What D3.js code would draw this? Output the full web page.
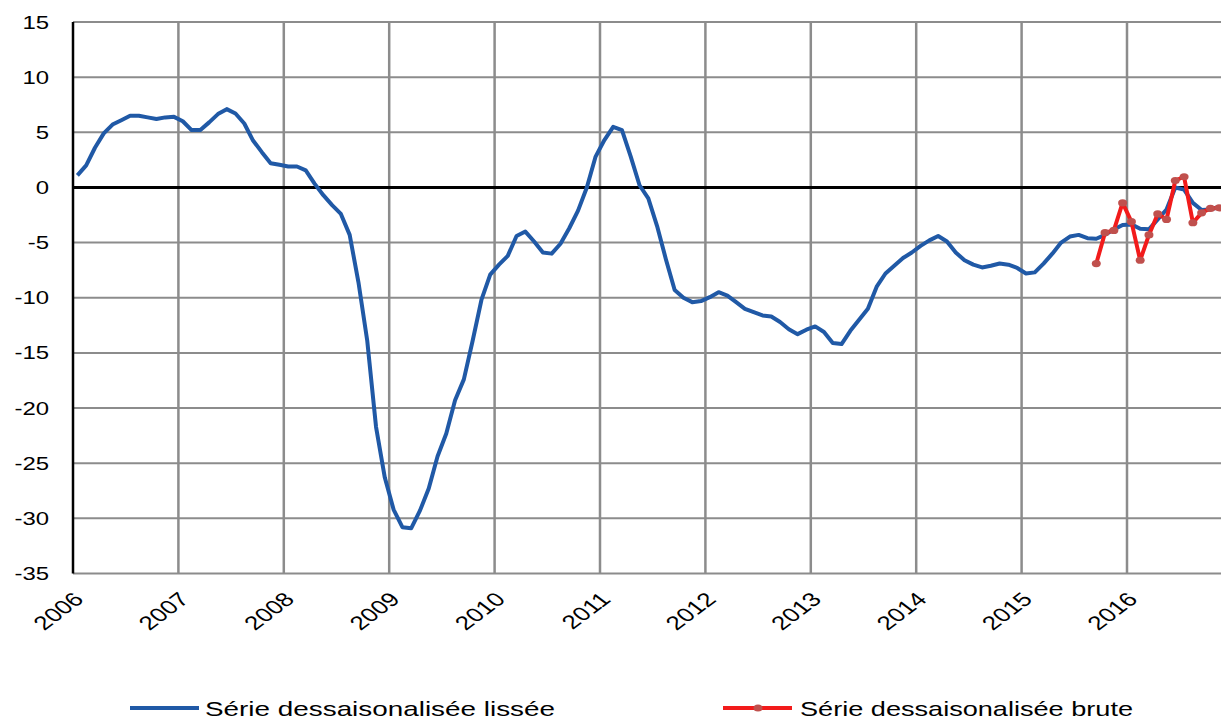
<!DOCTYPE html>
<html><head><meta charset="utf-8">
<script src="https://cdn.jsdelivr.net/npm/d3@7"></script>
<style>
html,body{margin:0;padding:0;background:#fff;}
svg text{font-family:"Liberation Sans",Arial,sans-serif;fill:#000;}
</style></head>
<body><svg id="c" width="1221" height="719"></svg>
<script>
// Monthly series starting January 2006 (one value per month)
const startYear = 2006;
const yearTicks = [2006,2007,2008,2009,2010,2011,2012,2013,2014,2015,2016];
const yTicks = [15,10,5,0,-5,-10,-15,-20,-25,-30,-35];
const seriesNames = ["Série dessaisonalisée lissée","Série dessaisonalisée brute"];
const smoothed = [
 1.1,2.0,3.6,4.9,5.7,6.1,6.5,6.5,6.35,6.2,6.35,6.4,
 6.0,5.2,5.2,5.9,6.65,7.1,6.7,5.8,4.25,3.2,2.2,2.05,
 1.9,1.9,1.55,0.35,-0.7,-1.6,-2.4,-4.3,-8.6,-13.9,-21.7,-26.3,
 -29.2,-30.8,-30.9,-29.3,-27.3,-24.4,-22.3,-19.3,-17.4,-13.9,-10.2,-7.9,
 -7.0,-6.2,-4.4,-4.0,-4.9,-5.9,-6.0,-5.1,-3.7,-2.1,0.0,2.8,
 4.3,5.5,5.2,2.8,0.2,-1.0,-3.5,-6.5,-9.3,-10.0,-10.4,-10.3,
 -9.95,-9.5,-9.8,-10.4,-11.0,-11.3,-11.6,-11.7,-12.2,-12.85,-13.3,-12.9,
 -12.6,-13.1,-14.1,-14.2,-13.0,-12.0,-11.0,-9.0,-7.8,-7.1,-6.4,-5.9,
 -5.3,-4.8,-4.4,-4.9,-5.9,-6.6,-7.0,-7.25,-7.1,-6.9,-7.0,-7.3,
 -7.8,-7.7,-6.9,-6.0,-5.0,-4.45,-4.3,-4.6,-4.65,-4.3,-3.8,-3.4,
 -3.35,-3.75,-3.8,-2.9,-2.0,0.0,-0.2,-1.4,-2.05,-2.0,-1.75
];
const rawStartMonth = 116; // September 2015
const raw = [-6.9,-4.1,-3.9,-1.4,-3.1,-6.6,-4.3,-2.4,-2.9,0.63,0.97,-3.2,-2.3,-1.9,-1.85];

const SX = 1.33; // horizontal stretch of text in the reference
const svg = d3.select("#c");
const L = 73, T = 22, B = 573.5, R = 1221;
const x = d3.scaleLinear().domain([2006, 2016]).range([L, 1127]);
const y = d3.scaleLinear().domain([-35, 15]).range([B, T]);
const monthX = m => x(startYear + (m + 0.5) / 12);

// gridlines
const g = svg.append("g");
g.selectAll("line.h").data(yTicks).join("line")
  .attr("x1", L).attr("x2", R + 5).attr("y1", d => y(d)).attr("y2", d => y(d))
  .attr("stroke", "#8c8c8c").attr("stroke-width", 2);
g.selectAll("line.v").data(yearTicks.slice(1)).join("line")
  .attr("x1", d => x(d)).attr("x2", d => x(d)).attr("y1", T).attr("y2", B)
  .attr("stroke", "#8c8c8c").attr("stroke-width", 2.5);
// zero line
g.append("line").attr("x1", L).attr("x2", R + 5).attr("y1", y(0)).attr("y2", y(0))
  .attr("stroke", "#000").attr("stroke-width", 3);
// left axis
g.append("line").attr("x1", L).attr("x2", L).attr("y1", T).attr("y2", B)
  .attr("stroke", "#000").attr("stroke-width", 2.5);

// y labels
svg.selectAll("text.yl").data(yTicks).join("text")
  .attr("text-anchor", "end").attr("font-size", 18)
  .attr("transform", d => `translate(49,${y(d) + 6.5}) scale(${SX},1)`)
  .text(d => d);
// x labels
svg.selectAll("text.xl").data(yearTicks).join("text")
  .attr("text-anchor", "end").attr("font-size", 19.5)
  .attr("transform", d => `translate(${x(d) + 12},${B + 27}) scale(${SX},1) rotate(-45)`)
  .text(d => d);

// lines
const line = d3.line().x(d => monthX(d.m)).y(d => y(d.v));
const sm = smoothed.map((v, m) => ({m, v}));
const rw = raw.map((v, i) => ({m: rawStartMonth + i, v}));
svg.append("path").datum(sm).attr("d", line).attr("fill", "none")
  .attr("stroke", "#2059a6").attr("stroke-width", 4).attr("stroke-linejoin", "round");
svg.append("path").datum(rw).attr("d", line).attr("fill", "none")
  .attr("stroke", "#f21b1b").attr("stroke-width", 4).attr("stroke-linejoin", "round");
svg.selectAll("ellipse.pt").data(rw).join("ellipse")
  .attr("cx", d => monthX(d.m)).attr("cy", d => y(d.v)).attr("rx", 4.5).attr("ry", 3.6)
  .attr("fill", "#c0504d");

// legend
const lg = svg.append("g");
lg.append("line").attr("x1", 130).attr("x2", 199).attr("y1", 708).attr("y2", 708)
  .attr("stroke", "#2059a6").attr("stroke-width", 4);
lg.append("text").attr("font-size", 20.7).attr("x", 205).attr("y", 716)
  .attr("textLength", 350).attr("lengthAdjust", "spacingAndGlyphs").text(seriesNames[0]);
lg.append("line").attr("x1", 723).attr("x2", 792).attr("y1", 708).attr("y2", 708)
  .attr("stroke", "#f21b1b").attr("stroke-width", 4);
lg.append("ellipse").attr("cx", 758).attr("cy", 708).attr("rx", 4.5).attr("ry", 3.6).attr("fill", "#c0504d");
lg.append("text").attr("font-size", 20.7).attr("x", 800).attr("y", 716)
  .attr("textLength", 333).attr("lengthAdjust", "spacingAndGlyphs").text(seriesNames[1]);
</script></body></html>
